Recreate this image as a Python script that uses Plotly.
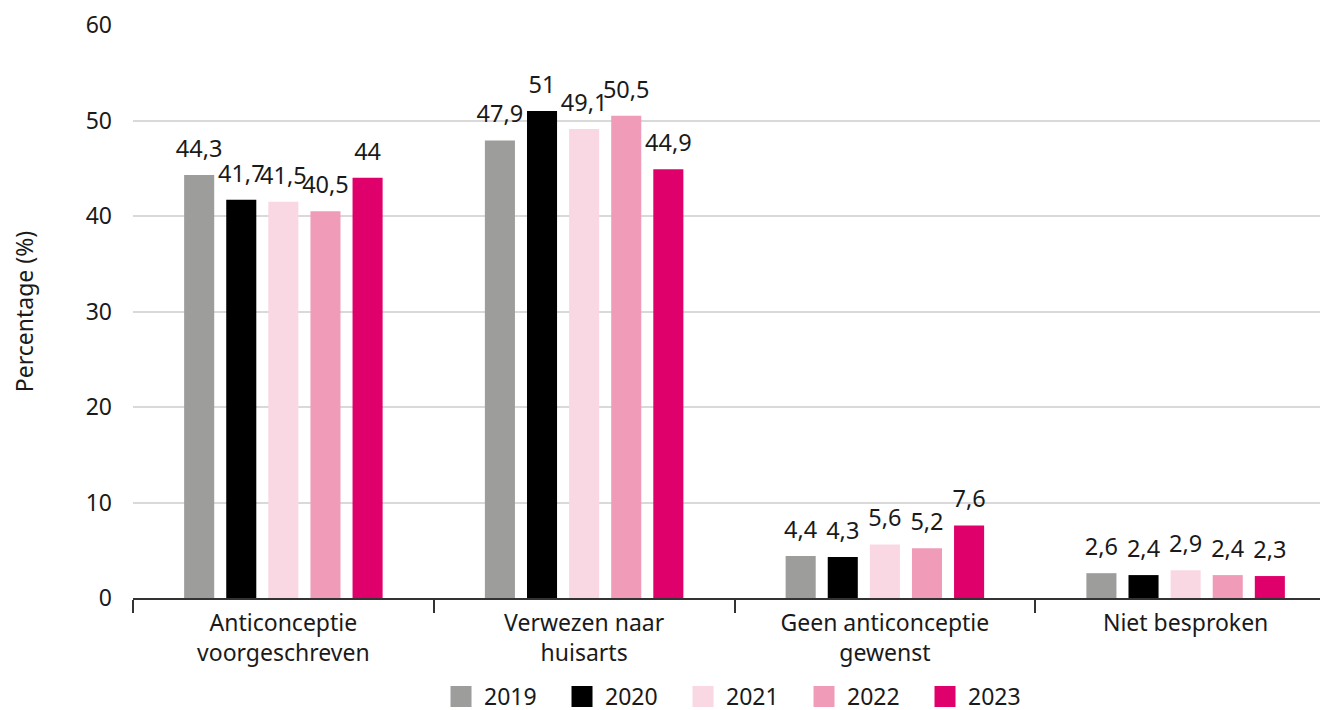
import plotly.graph_objects as go

categories = ["Anticonceptie<br>voorgeschreven", "Verwezen naar<br>huisarts",
              "Geen anticonceptie<br>gewenst", "Niet besproken"]
years = ["2019", "2020", "2021", "2022", "2023"]
values = {
    "2019": [44.3, 47.9, 4.4, 2.6],
    "2020": [41.7, 51, 4.3, 2.4],
    "2021": [41.5, 49.1, 5.6, 2.9],
    "2022": [40.5, 50.5, 5.2, 2.4],
    "2023": [44, 44.9, 7.6, 2.3],
}
colors = ["#9d9d9c", "#000000", "#f9d7e3", "#f09cb8", "#e0006b"]
y_ticks = [0, 10, 20, 30, 40, 50, 60]

FONT = "Noto Sans"
TXT = "#1a1a1a"

def fmt(v):
    return ("%g" % v).replace(".", ",")

fig = go.Figure()
for yr, col in zip(years, colors):
    vals = values[yr]
    fig.add_trace(go.Bar(
        x=categories, y=vals, name=yr, offsetgroup=yr,
        marker=dict(color=col, line=dict(width=0)),
        showlegend=False, hoverinfo="skip",
    ))
for yr, col in zip(years, colors):
    vals = values[yr]
    fig.add_trace(go.Scatter(
        x=categories, y=vals, mode="markers+text", text=[fmt(v) for v in vals],
        textposition="top center", offsetgroup=yr, cliponaxis=False,
        marker=dict(size=18, color=col, opacity=0),
        textfont=dict(family=FONT, size=23.5, color=TXT),
        showlegend=False, hoverinfo="skip",
    ))
for yr, col in zip(years, colors):
    fig.add_trace(go.Scatter(
        x=[None], y=[None], mode="markers", name=yr, xaxis="x2",
        marker=dict(symbol="square", size=20, color=col, line=dict(color=col, width=6)),
        showlegend=True,
    ))

fig.update_layout(
    width=1328, height=710,
    margin=dict(l=125, r=0, t=17, b=119),
    paper_bgcolor="white", plot_bgcolor="white",
    font=dict(family=FONT, size=23, color=TXT),
    barmode="group", bargap=0.30, bargroupgap=0.286,
    scattermode="group", scattergap=0.30,
    showlegend=True,
    legend=dict(orientation="h", x=0.505, xanchor="center", y=-0.171, yanchor="middle",
                font=dict(family=FONT, size=23, color=TXT), itemwidth=36,
                entrywidth=70, entrywidthmode="pixels", itemsizing="trace"),
    xaxis=dict(
        range=[-0.5, 3.5], showline=True, linecolor="#333333", linewidth=1.5,
        ticks="outside", tickson="boundaries", ticklen=13, tickcolor="#333333", tickwidth=1.5,
        showgrid=False, zeroline=False, automargin=False, ticklabelstandoff=4,
        tickfont=dict(family=FONT, size=23, color=TXT),
    ),
    xaxis2=dict(overlaying="x", visible=False, range=[0, 1]),
    yaxis=dict(
        range=[0, 60], tickvals=y_ticks, showgrid=True, gridcolor="#d9d9d9", gridwidth=1.5,
        zeroline=False, showline=False, ticks="", ticklabelstandoff=20, automargin=False,
        tickfont=dict(family=FONT, size=23, color=TXT),
        title=dict(text="Percentage (%)", standoff=60, font=dict(family=FONT, size=23, color=TXT)),
    ),
)

fig.write_html("out.html")
